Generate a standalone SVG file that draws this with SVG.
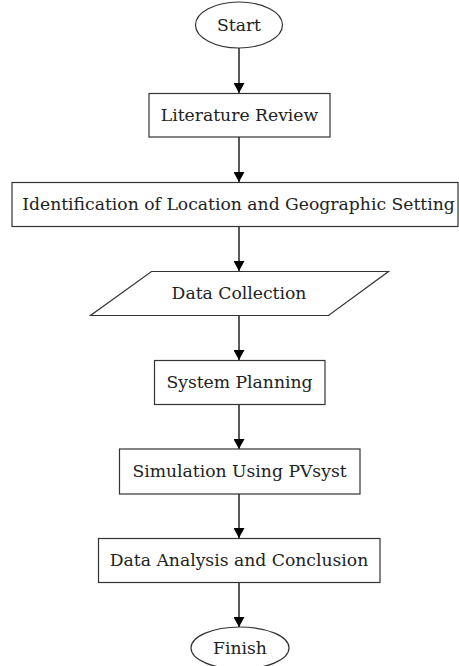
<svg xmlns="http://www.w3.org/2000/svg" width="459" height="666" viewBox="0 0 459 666">
<defs>
<marker id="ah" markerWidth="10" markerHeight="11" refX="10" refY="5.5" orient="auto" markerUnits="userSpaceOnUse">
<path d="M0,0 L10,5.5 L0,11 Z" fill="#000"/>
</marker>
</defs>
<style>
.n{fill:#fff;stroke:#333;stroke-width:1.2}
.t{font-family:"DejaVu Serif",serif;font-size:17.2px;fill:#222;text-anchor:middle}
.e{stroke:#000;stroke-width:1.3;fill:none;marker-end:url(#ah)}
</style>
<rect width="459" height="666" fill="#fff"/>
<g id="edges">
<line class="e" x1="239" y1="48" x2="239" y2="93"/>
<line class="e" x1="239" y1="137" x2="239" y2="182"/>
<line class="e" x1="239" y1="227" x2="239" y2="271"/>
<line class="e" x1="239" y1="316" x2="239" y2="360"/>
<line class="e" x1="239" y1="404" x2="239" y2="449"/>
<line class="e" x1="239" y1="494" x2="239" y2="538"/>
<line class="e" x1="239" y1="583" x2="239" y2="627"/>
</g>
<g id="start">
<ellipse class="n" cx="239" cy="25" rx="43.5" ry="23"/>
<text class="t" x="239" y="31">Start</text>
</g>
<g id="literature">
<rect class="n" x="149" y="93.5" width="181" height="43.5"/>
<text class="t" x="239.5" y="121">Literature Review</text>
</g>
<g id="identification">
<rect class="n" x="12" y="182.5" width="446" height="44"/>
<text class="t" x="238.5" y="210">Identification of Location and Geographic Setting</text>
</g>
<g id="datacollection">
<polygon class="n" points="151.5,271.5 388.5,271.5 328.5,315.5 90.5,315.5"/>
<text class="t" x="239" y="299">Data Collection</text>
</g>
<g id="systemplanning">
<rect class="n" x="154.5" y="360.5" width="170.5" height="44"/>
<text class="t" x="239.5" y="388">System Planning</text>
</g>
<g id="simulation">
<rect class="n" x="119.5" y="449" width="240.5" height="45"/>
<text class="t" x="239.5" y="477">Simulation Using PVsyst</text>
</g>
<g id="analysis">
<rect class="n" x="98.5" y="538.5" width="281.5" height="44"/>
<text class="t" x="239" y="566">Data Analysis and Conclusion</text>
</g>
<g id="finish">
<ellipse class="n" cx="240" cy="648" rx="49" ry="21"/>
<text class="t" x="240" y="654">Finish</text>
</g>
</svg>
